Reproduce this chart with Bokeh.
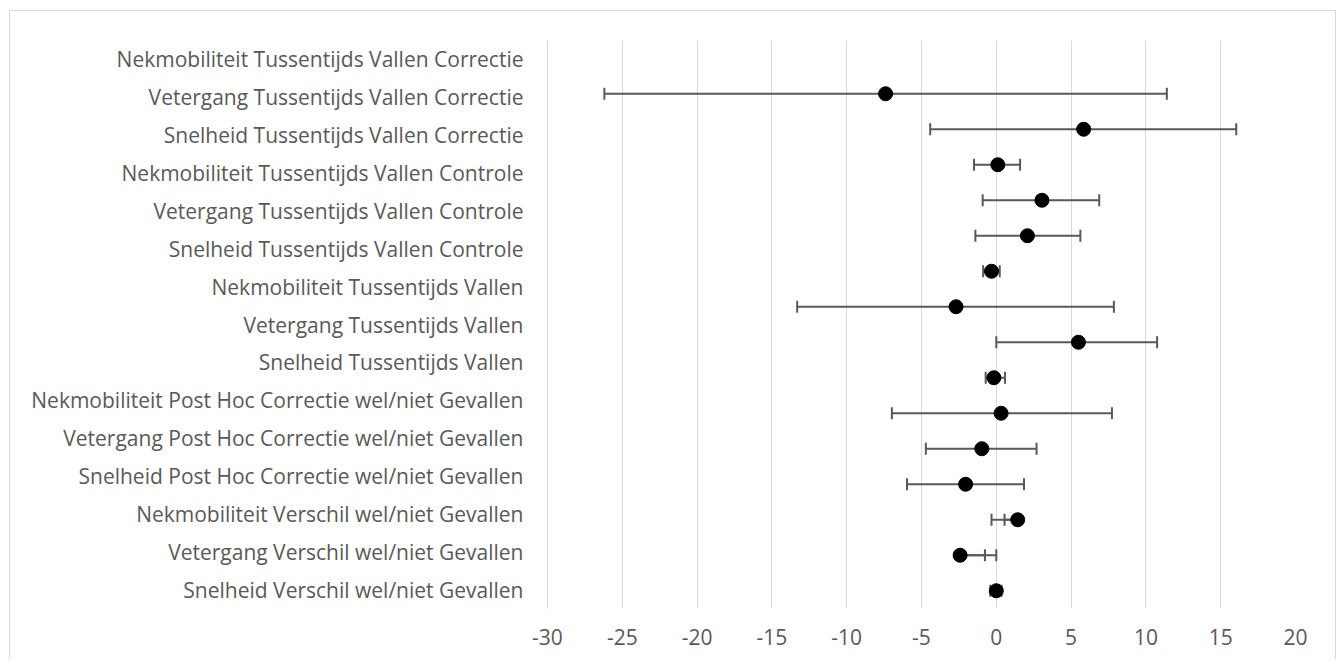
from bokeh.plotting import figure
from bokeh.models import Range1d, LinearAxis, FixedTicker, ColumnDataSource
from bokeh.embed import file_html
from bokeh.resources import INLINE
import math

# Category labels, top to bottom
labels = [
    "Nekmobiliteit Tussentijds Vallen Correctie",
    "Vetergang Tussentijds Vallen Correctie",
    "Snelheid Tussentijds Vallen Correctie",
    "Nekmobiliteit Tussentijds Vallen Controle",
    "Vetergang Tussentijds Vallen Controle",
    "Snelheid Tussentijds Vallen Controle",
    "Nekmobiliteit Tussentijds Vallen",
    "Vetergang Tussentijds Vallen",
    "Snelheid Tussentijds Vallen",
    "Nekmobiliteit Post Hoc Correctie wel/niet Gevallen",
    "Vetergang Post Hoc Correctie wel/niet Gevallen",
    "Snelheid Post Hoc Correctie wel/niet Gevallen",
    "Nekmobiliteit Verschil wel/niet Gevallen",
    "Vetergang Verschil wel/niet Gevallen",
    "Snelheid Verschil wel/niet Gevallen",
]

# Plotted points (rows of the scatter, top to bottom)
estimate = [-7.4, 5.84, 0.1, 3.05, 2.08, -0.32, -2.69, 5.49, -0.16, 0.32, -0.97, -2.05, 1.43, -2.42, 0.0]
err_low = [-26.2, -4.42, -1.49, -0.91, -1.40, -0.88, -13.31, 0.0, -0.71, -6.98, -4.71, -5.97, -0.32, -0.76, -0.4]
err_high = [11.4, 16.04, 1.59, 6.88, 5.62, 0.23, 7.86, 10.75, 0.58, 7.73, 2.69, 1.85, 0.55, 0.0, 0.35]

x_ticks = [-30, -25, -20, -15, -10, -5, 0, 5, 10, 15, 20]

n = len(estimate)
row = [n - i for i in range(n)]

src = ColumnDataSource(dict(y=row, est=estimate, lo=err_low, hi=err_high))

GREY = "#595959"
GRID = "#d9d9d9"
FONT = "Open Sans"
FSIZE = "21px"

p = figure(width=1327, height=649,
           x_range=Range1d(x_ticks[0], x_ticks[-1]),
           y_range=Range1d(0.5, n + 1.5),
           y_axis_location=None,
           output_backend="svg", toolbar_location=None,
           min_border_left=537, min_border_right=42,
           min_border_top=29, min_border_bottom=52)
p.outline_line_color = None
p.background_fill_color = "white"
p.border_fill_color = "white"
p.styles = {"border": "1px solid #d9d9d9", "border-bottom": "none",
            "margin-left": "9px", "margin-top": "10px"}

# label axis: one band per category, evenly spread over the frame
m = len(labels)
label_pos = [m - i - 0.5 for i in range(m)]
p.extra_y_ranges = {"labels": Range1d(0, m)}
yax = LinearAxis(y_range_name="labels")
yax.ticker = FixedTicker(ticks=label_pos)
yax.major_label_overrides = {pos: lab for pos, lab in zip(label_pos, labels)}
yax.axis_line_color = GRID
yax.axis_line_width = 1
yax.major_tick_line_color = None
yax.minor_tick_line_color = None
yax.major_tick_out = 0
yax.major_label_standoff = 24
yax.major_label_text_font = FONT
yax.major_label_text_font_size = FSIZE
yax.major_label_text_color = GREY
p.add_layout(yax, "left")

xax = p.xaxis[0]
xax.ticker = FixedTicker(ticks=x_ticks)
xax.major_label_overrides = {t: str(t) for t in x_ticks}
xax.axis_line_color = None
xax.major_tick_line_color = None
xax.minor_tick_line_color = None
xax.major_tick_out = 0
xax.major_label_standoff = 20
xax.major_label_text_font = FONT
xax.major_label_text_font_size = FSIZE
xax.major_label_text_color = GREY

p.xgrid.ticker = FixedTicker(ticks=x_ticks)
p.xgrid.grid_line_color = GRID
p.xgrid.grid_line_width = 1
p.ygrid.grid_line_color = None

# error bars
p.segment(x0="est", y0="y", x1="lo", y1="y", source=src, line_color=GREY, line_width=2)
p.segment(x0="est", y0="y", x1="hi", y1="y", source=src, line_color=GREY, line_width=2)
p.scatter(x="lo", y="y", source=src, marker="dash", angle=math.pi / 2, size=12,
          line_color=GREY, line_width=2)
p.scatter(x="hi", y="y", source=src, marker="dash", angle=math.pi / 2, size=12,
          line_color=GREY, line_width=2)
p.scatter(x="est", y="y", source=src, marker="circle", size=14,
          fill_color="black", line_color="black")

open("out.html", "w").write(file_html(p, INLINE))
